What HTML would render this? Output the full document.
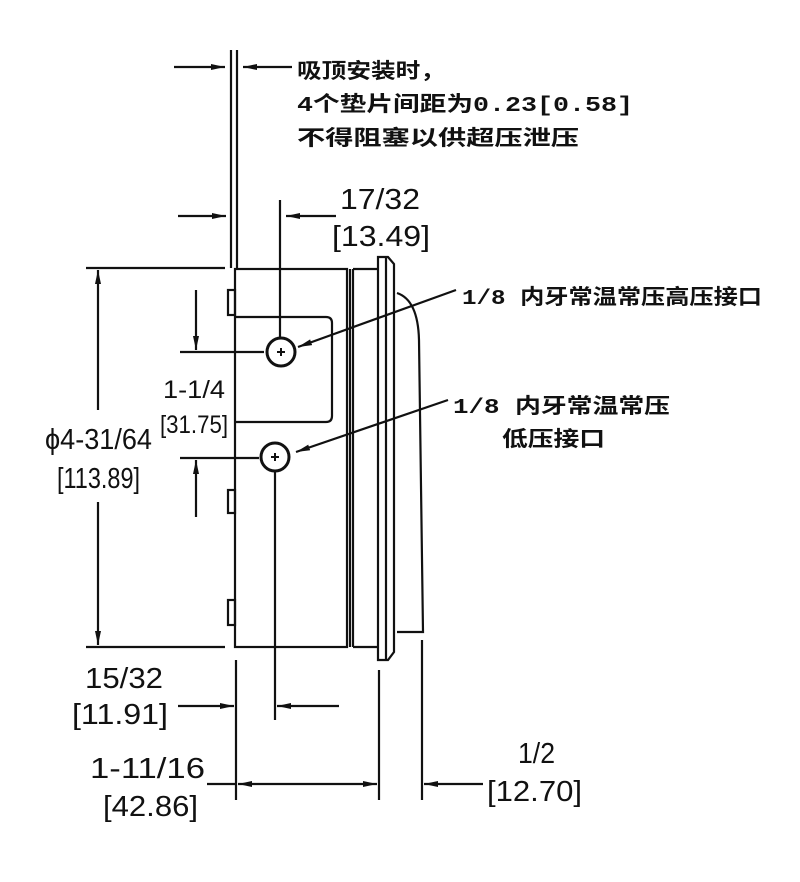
<!DOCTYPE html>
<html><head><meta charset="utf-8"><style>
html,body{margin:0;padding:0;background:#fff;}
svg{display:block;}
.l{font-family:"Liberation Sans",sans-serif;font-size:29px;fill:#111;}
.c{font-family:"Liberation Mono","Noto Sans CJK SC",monospace;font-size:21px;font-weight:bold;fill:#111;}
</style></head><body>
<svg width="800" height="882" viewBox="0 0 800 882" xmlns="http://www.w3.org/2000/svg">
<defs>
<marker id="a" markerWidth="14" markerHeight="8" refX="14" refY="4" orient="auto" markerUnits="userSpaceOnUse">
<path d="M0,1 L14,4 L0,7 Z" fill="#111"/></marker>
</defs>
<g stroke="#111" stroke-width="2.2" fill="none">
<line x1="231" y1="50" x2="231" y2="268"/>
<line x1="237" y1="50" x2="237" y2="268"/>
<line x1="174" y1="67" x2="225" y2="67" marker-end="url(#a)"/>
<line x1="292" y1="67" x2="243" y2="67" marker-end="url(#a)"/>
<line x1="178" y1="216" x2="226" y2="216" marker-end="url(#a)"/>
<line x1="336" y1="216" x2="286" y2="216" marker-end="url(#a)"/>
<line x1="280" y1="200" x2="280" y2="338"/>
<rect x="235" y="269" width="112" height="378"/>
<path d="M235,317 H326 Q332,317 332,323 V416 Q332,422 326,422 H235"/>
<rect x="228" y="290" width="7" height="25"/>
<rect x="228" y="490" width="7" height="23"/>
<rect x="228" y="600" width="7" height="25"/>
<line x1="350" y1="269" x2="350" y2="647"/>
<line x1="353" y1="269" x2="353" y2="647"/>
<line x1="353" y1="269" x2="378" y2="269"/>
<line x1="353" y1="647" x2="378" y2="647"/>
<path d="M378,257 H388 L394,264 V652 L388,660 H378 Z"/>
<line x1="386" y1="257" x2="386" y2="660"/>
<path d="M397,293 Q418,300 419,340 L423,632 H397"/>
<circle cx="281" cy="352" r="14" stroke-width="3"/>
<path d="M277,352 h8 M281,348 v8" stroke-width="2"/>
<circle cx="275" cy="457" r="14" stroke-width="3"/>
<path d="M271,457 h8 M275,453 v8" stroke-width="2"/>
<line x1="275" y1="471" x2="275" y2="720"/>
<line x1="456" y1="290" x2="298" y2="347" marker-end="url(#a)"/>
<line x1="448" y1="400" x2="296" y2="452" marker-end="url(#a)"/>
<line x1="86" y1="268" x2="225" y2="268"/>
<line x1="86" y1="647" x2="225" y2="647"/>
<line x1="98" y1="410" x2="98" y2="270" marker-end="url(#a)"/>
<line x1="98" y1="502" x2="98" y2="645" marker-end="url(#a)"/>
<line x1="180" y1="352" x2="264" y2="352"/>
<line x1="180" y1="458" x2="259" y2="458"/>
<line x1="196" y1="290" x2="196" y2="350" marker-end="url(#a)"/>
<line x1="196" y1="517" x2="196" y2="460" marker-end="url(#a)"/>
<line x1="236" y1="660" x2="236" y2="800"/>
<line x1="379" y1="670" x2="379" y2="800"/>
<line x1="422" y1="640" x2="422" y2="800"/>
<line x1="178" y1="706" x2="234" y2="706" marker-end="url(#a)"/>
<line x1="339" y1="706" x2="277" y2="706" marker-end="url(#a)"/>
<line x1="207" y1="784" x2="236" y2="784"/>
<line x1="300" y1="784" x2="238" y2="784" marker-end="url(#a)"/>
<line x1="300" y1="784" x2="377" y2="784" marker-end="url(#a)"/>
<line x1="483" y1="784" x2="424" y2="784" marker-end="url(#a)"/>
</g>
<g lengthAdjust="spacingAndGlyphs">
<text class="c" x="297" y="78" textLength="148" lengthAdjust="spacingAndGlyphs">吸顶安装时，</text>
<text class="c" x="297" y="111" textLength="336" lengthAdjust="spacingAndGlyphs">4个垫片间距为0.23[0.58]</text>
<text class="c" x="297" y="145" textLength="282" lengthAdjust="spacingAndGlyphs">不得阻塞以供超压泄压</text>
<text class="c" x="462" y="304" textLength="300" lengthAdjust="spacingAndGlyphs">1/8 内牙常温常压高压接口</text>
<text class="c" x="453" y="413" textLength="217" lengthAdjust="spacingAndGlyphs">1/8 内牙常温常压</text>
<text class="c" x="502" y="446" textLength="103" lengthAdjust="spacingAndGlyphs">低压接口</text>
<text class="l" x="340" y="209" textLength="80" lengthAdjust="spacingAndGlyphs">17/32</text>
<text class="l" x="332" y="246" textLength="98" lengthAdjust="spacingAndGlyphs">[13.49]</text>
<text class="l" x="45" y="449" textLength="107" lengthAdjust="spacingAndGlyphs">ϕ4-31/64</text>
<text class="l" x="57" y="488" textLength="83" lengthAdjust="spacingAndGlyphs">[113.89]</text>
<text class="l" x="163" y="398" textLength="62" lengthAdjust="spacingAndGlyphs" style="font-size:25px">1-1/4</text>
<text class="l" x="160" y="433" textLength="68" lengthAdjust="spacingAndGlyphs" style="font-size:25px">[31.75]</text>
<text class="l" x="85" y="688" textLength="78" lengthAdjust="spacingAndGlyphs">15/32</text>
<text class="l" x="72" y="724" textLength="96" lengthAdjust="spacingAndGlyphs">[11.91]</text>
<text class="l" x="90" y="778" textLength="115" lengthAdjust="spacingAndGlyphs">1-11/16</text>
<text class="l" x="103" y="816" textLength="95" lengthAdjust="spacingAndGlyphs">[42.86]</text>
<text class="l" x="518" y="763" textLength="37" lengthAdjust="spacingAndGlyphs">1/2</text>
<text class="l" x="487" y="801" textLength="95" lengthAdjust="spacingAndGlyphs">[12.70]</text>
</g>
</svg>
</body></html>
